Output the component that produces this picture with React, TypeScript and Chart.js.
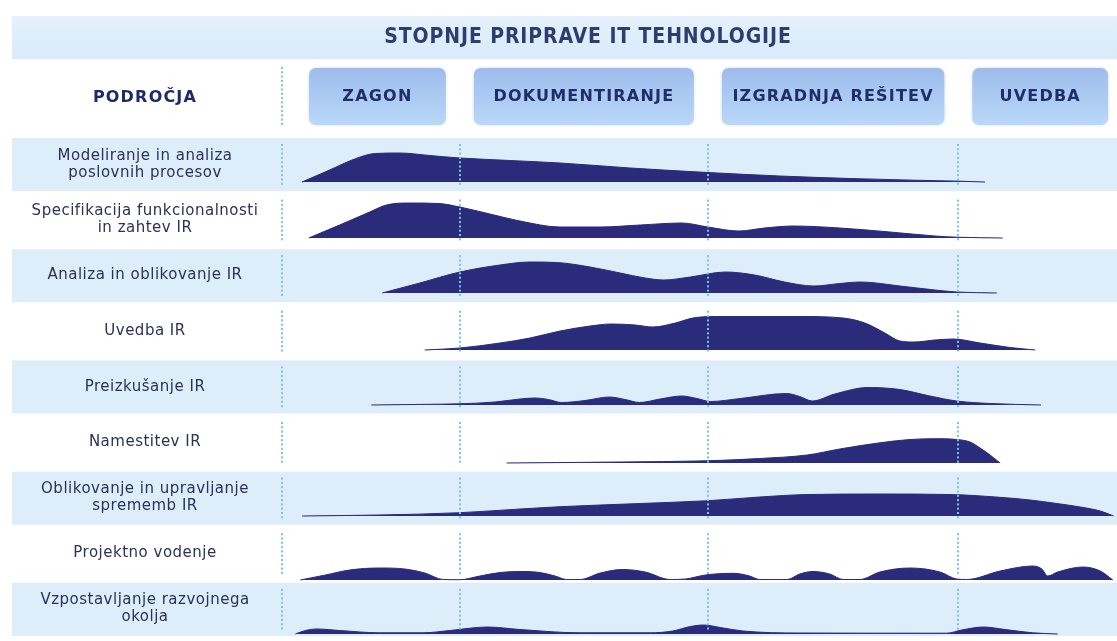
import React, { useEffect, useRef } from "react";
import { Chart, registerables } from "chart.js";

Chart.register(...registerables);

// ---------------- DATA ----------------
const TITLE = "STOPNJE PRIPRAVE IT TEHNOLOGIJE";
const AREA_HEADER = "PODROČJA";
const PHASES = ["ZAGON", "DOKUMENTIRANJE", "IZGRADNJA REŠITEV", "UVEDBA"];
// project timeline (0–100 %) at which each phase starts / the project ends
const PHASE_BOUNDS = [0, 21.3, 51.0, 81.0, 100];

const ROW_LABELS: string[][] = [
  ["Modeliranje in analiza", "poslovnih procesov"],
  ["Specifikacija funkcionalnosti", "in zahtev IR"],
  ["Analiza in oblikovanje IR"],
  ["Uvedba IR"],
  ["Preizkušanje IR"],
  ["Namestitev IR"],
  ["Oblikovanje in upravljanje", "sprememb IR"],
  ["Projektno vodenje"],
  ["Vzpostavljanje razvojnega", "okolja"],
];

// effort profiles: [timeline %, effort]
const PROFILE_MODELIRANJE = [
  [2.4, 0], [5.7, 12], [8.7, 23], [11.1, 28.5], [14.1, 29], [17.7, 26.5], [21.3, 24],
  [27.3, 21.5], [33.3, 19], [41.7, 14], [51.0, 9.5], [59.6, 6], [68.0, 3.5], [75.7, 1.8],
  [81.2, 0.8], [84.2, 0],
];
const PROFILE_SPECIFIKACIJA = [
  [3.2, 0], [6.9, 13], [10.5, 26], [12.5, 33], [15.3, 35], [18.8, 34.5], [21.3, 31],
  [24.9, 24], [28.5, 17], [33.3, 11], [38.1, 11], [42.9, 13], [47.9, 15], [51.0, 11],
  [54.7, 7], [57.8, 10], [61.2, 12], [66.8, 10], [72.8, 6], [78.2, 2], [80.8, 0.8], [86.3, 0],
];
const PROFILE_ANALIZA = [
  [12.0, 0], [16.5, 10], [21.3, 21], [26.1, 28], [29.7, 31], [32.9, 30.5], [36.9, 26],
  [40.5, 20], [43.5, 15], [45.7, 13], [48.9, 16], [53.1, 21], [56.6, 18], [60.2, 11],
  [63.7, 7], [66.8, 9.5], [69.3, 11], [74.0, 7], [78.2, 3], [80.8, 1], [85.6, 0],
];
const PROFILE_UVEDBA = [
  [17.1, 0], [21.3, 2], [26.1, 7], [29.7, 12], [33.3, 19], [36.9, 24], [39.4, 26],
  [42.3, 25], [44.4, 23], [47.1, 27], [49.2, 32], [51.9, 33.5], [62.0, 33.5], [67.2, 32],
  [69.8, 27], [72.2, 17], [74.0, 9], [75.7, 8], [78.2, 10], [80.4, 11], [83.6, 7],
  [87.2, 2.5], [90.2, 0],
];
const PROFILE_PREIZKUSANJE = [
  [10.7, 0], [16.5, 0.6], [21.3, 1.2], [25.5, 3], [28.5, 6], [30.3, 7], [31.9, 5.5],
  [33.5, 2.5], [36.3, 4.5], [39.2, 8], [41.1, 5.5], [42.8, 2.5], [45.3, 6], [47.9, 9],
  [49.7, 6.5], [51.3, 3.5], [54.9, 6.5], [60.4, 11.5], [62.0, 8.5], [63.5, 4], [66.2, 11],
  [70.2, 17.5], [74.0, 15.5], [77.6, 9], [80.8, 4], [84.8, 1.5], [90.9, 0],
];
const PROFILE_NAMESTITEV = [
  [26.9, 0], [32.9, 0.4], [40.5, 1], [50.9, 2.2], [57.2, 4.5], [62.9, 8], [66.8, 14],
  [71.4, 20], [75.2, 23.5], [78.3, 24.3], [80.8, 23.5], [82.4, 21], [83.6, 15], [84.8, 8],
  [85.7, 2], [86.0, 0],
];
const PROFILE_SPREMEMBE = [
  [2.4, 0], [11.7, 1], [21.3, 3.3], [28.5, 7], [33.3, 9.3], [42.9, 12.5], [51.0, 15.3],
  [57.2, 19], [62.9, 21.5], [71.6, 22], [80.0, 21.5], [85.5, 19], [89.6, 16], [92.8, 12.5],
  [95.6, 9], [98.0, 5], [99.6, 0],
];
const PROFILE_VODENJE = [
  [2.2, 0], [5.2, 5], [8.1, 10], [11.7, 12], [14.7, 11], [17.1, 7], [19.3, 0.5],
  [21.3, 0.3], [23.7, 4], [26.1, 7.5], [28.5, 8.5], [30.9, 7.5], [32.7, 4], [34.1, 0.5],
  [35.7, 0.5], [38.1, 7], [40.8, 10.5], [43.5, 8], [46.5, 0.5], [48.3, 1], [50.7, 5],
  [54.0, 6.7], [56.0, 4], [57.2, 0.5], [60.5, 0.5], [62.0, 6], [63.6, 8.5], [65.6, 6],
  [67.2, 0.5], [69.2, 0.5], [71.6, 8], [75.2, 12], [78.8, 8], [80.8, 1], [82.0, 0.5],
  [86.0, 9], [89.9, 14], [91.0, 11], [91.7, 4], [92.9, 8], [95.9, 13], [98.0, 9], [99.5, 0],
];
const PROFILE_OKOLJE = [
  [1.6, 0], [2.8, 3.5], [4.2, 5], [6.9, 3.5], [11.7, 1.2], [16.9, 1.2], [20.1, 3.5],
  [24.6, 7], [28.5, 4.5], [35.7, 1.2], [44.1, 1.2], [46.8, 3], [48.9, 7.5], [50.5, 9],
  [52.5, 6.5], [55.2, 3], [62.0, 1], [79.6, 0.8], [81.4, 4], [84.0, 7], [86.6, 4.5],
  [89.9, 1.2], [92.9, 0],
];

const PROFILES = [
  PROFILE_MODELIRANJE,
  PROFILE_SPECIFIKACIJA,
  PROFILE_ANALIZA,
  PROFILE_UVEDBA,
  PROFILE_PREIZKUSANJE,
  PROFILE_NAMESTITEV,
  PROFILE_SPREMEMBE,
  PROFILE_VODENJE,
  PROFILE_OKOLJE,
];

// ---------------- LAYOUT / STYLE ----------------
const W = 1117;
const H = 641;
const LEFT = 282;
const ROW_TOP = 137;
const ROW_PITCH = 55.6;
const NROWS = ROW_LABELS.length;
const YMAX = NROWS * ROW_PITCH;
const BASE_OFFSETS = [45, 45.4, 44.8, 46.2, 45.6, 48, 45.4, 53.8, 52.2];
const SHAPE = "#2a2b7b";
const BAND = "#deedfa";
const DOT = "#78c4e0";
const LABEL_X = 145;

const font = (size: number, bold = false, family = "'DejaVu Sans', 'Verdana', sans-serif") =>
  `${bold ? "bold " : ""}${size}px ${family}`;

const decorPlugin = {
  id: "decor",
  beforeDraw(chart: any) {
    const { ctx } = chart;
    const x = chart.scales.x;
    const y = chart.scales.y;
    ctx.save();
    ctx.fillStyle = "#ffffff";
    ctx.fillRect(0, 0, W, H);

    // title band
    const g = ctx.createLinearGradient(0, 16, 0, 59);
    g.addColorStop(0, "#e5f1fc");
    g.addColorStop(1, "#d9eafa");
    ctx.fillStyle = g;
    ctx.fillRect(12, 16, W - 12, 43);
    ctx.fillStyle = "#2f3c6e";
    ctx.font = font(21, true, "'DejaVu Sans Condensed', 'DejaVu Sans', sans-serif");
    (ctx as any).letterSpacing = "0.9px";
    ctx.textAlign = "center";
    ctx.textBaseline = "middle";
    ctx.fillText(TITLE, 588, 38);

    // row bands
    for (let k = 0; k < NROWS; k++) {
      const top = y.getPixelForValue(YMAX - k * ROW_PITCH);
      if (k % 2 === 0) {
        ctx.fillStyle = BAND;
        ctx.fillRect(12, top + 1, W - 12, ROW_PITCH - 2.5);
      }
      // labels
      ctx.fillStyle = "#2b3158";
      ctx.font = font(15);
      (ctx as any).letterSpacing = "0.5px";
      const lines = ROW_LABELS[k];
      const cy = top + ROW_PITCH / 2 - 0.5;
      lines.forEach((ln, i) => {
        const yy = cy + (i - (lines.length - 1) / 2) * 17;
        ctx.fillText(ln, LABEL_X, yy);
      });
    }

    // header
    ctx.font = font(16, true);
    (ctx as any).letterSpacing = "1.2px";
    ctx.fillStyle = "#1f2a66";
    ctx.fillText(AREA_HEADER, LABEL_X, 98);

    PHASES.forEach((p, i) => {
      const x0 = x.getPixelForValue(PHASE_BOUNDS[i]) + (i === 0 ? 27 : 14);
      const x1 = x.getPixelForValue(PHASE_BOUNDS[i + 1]) - (i === PHASES.length - 1 ? 9 : 14);
      const bg = ctx.createLinearGradient(0, 68, 0, 125);
      bg.addColorStop(0, "#9dbcec");
      bg.addColorStop(1, "#bad8f8");
      ctx.save();
      ctx.shadowColor = "rgba(120,150,200,0.35)";
      ctx.shadowBlur = 3;
      ctx.fillStyle = bg;
      ctx.beginPath();
      ctx.roundRect(x0, 68, x1 - x0, 57, 7);
      ctx.fill();
      ctx.restore();
      ctx.fillStyle = "#1f2d6b";
      ctx.font = font(16, true);
      (ctx as any).letterSpacing = "1.2px";
      ctx.fillText(p, (x0 + x1) / 2, 97);
    });

    // header dotted line
    ctx.fillStyle = DOT;
    for (let yy = 67; yy <= 127; yy += 4.3) ctx.fillRect(LEFT - 1, yy, 2, 2);
    ctx.restore();
  },
  afterDatasetsDraw(chart: any) {
    const { ctx } = chart;
    const x = chart.scales.x;
    const y = chart.scales.y;
    ctx.save();
    ctx.fillStyle = DOT;
    for (let b = 0; b < PHASE_BOUNDS.length - 1; b++) {
      const px = Math.round(x.getPixelForValue(PHASE_BOUNDS[b]));
      for (let k = 0; k < NROWS; k++) {
        const top = y.getPixelForValue(YMAX - k * ROW_PITCH);
        for (let yy = top + 7; yy <= top + ROW_PITCH - 8; yy += 4.3) {
          ctx.fillRect(px - 1, yy, 2, 2);
        }
      }
    }
    ctx.restore();
  },
};

export default function App() {
  const ref = useRef<HTMLCanvasElement>(null);
  useEffect(() => {
    const datasets = PROFILES.map((prof, k) => {
      const base = YMAX - (k * ROW_PITCH + BASE_OFFSETS[k]);
      return {
        label: ROW_LABELS[k].join(" "),
        data: prof.map(([t, h]) => ({ x: t, y: base + h })),
        fill: { value: base },
        backgroundColor: SHAPE,
        borderColor: SHAPE,
        borderWidth: 1,
        pointRadius: 0,
        cubicInterpolationMode: "monotone" as const,
      };
    });
    const chart = new Chart(ref.current as HTMLCanvasElement, {
      type: "line",
      data: { datasets },
      options: {
        animation: false,
        responsive: false,
        devicePixelRatio: 1,
        layout: { padding: { left: LEFT, right: 0, top: ROW_TOP, bottom: H - (ROW_TOP + YMAX) } },
        scales: {
          x: { type: "linear", min: 0, max: 100, display: false },
          y: { type: "linear", min: 0, max: YMAX, display: false },
        },
        plugins: { legend: { display: false }, tooltip: { enabled: false } },
      },
      plugins: [decorPlugin],
    } as any);
    return () => chart.destroy();
  }, []);
  return (
    <div style={{ position: "fixed", left: 0, top: 0, width: W, height: H, background: "#fff" }}>
      <canvas ref={ref} width={W} height={H} style={{ width: W, height: H, display: "block" }} />
    </div>
  );
}
